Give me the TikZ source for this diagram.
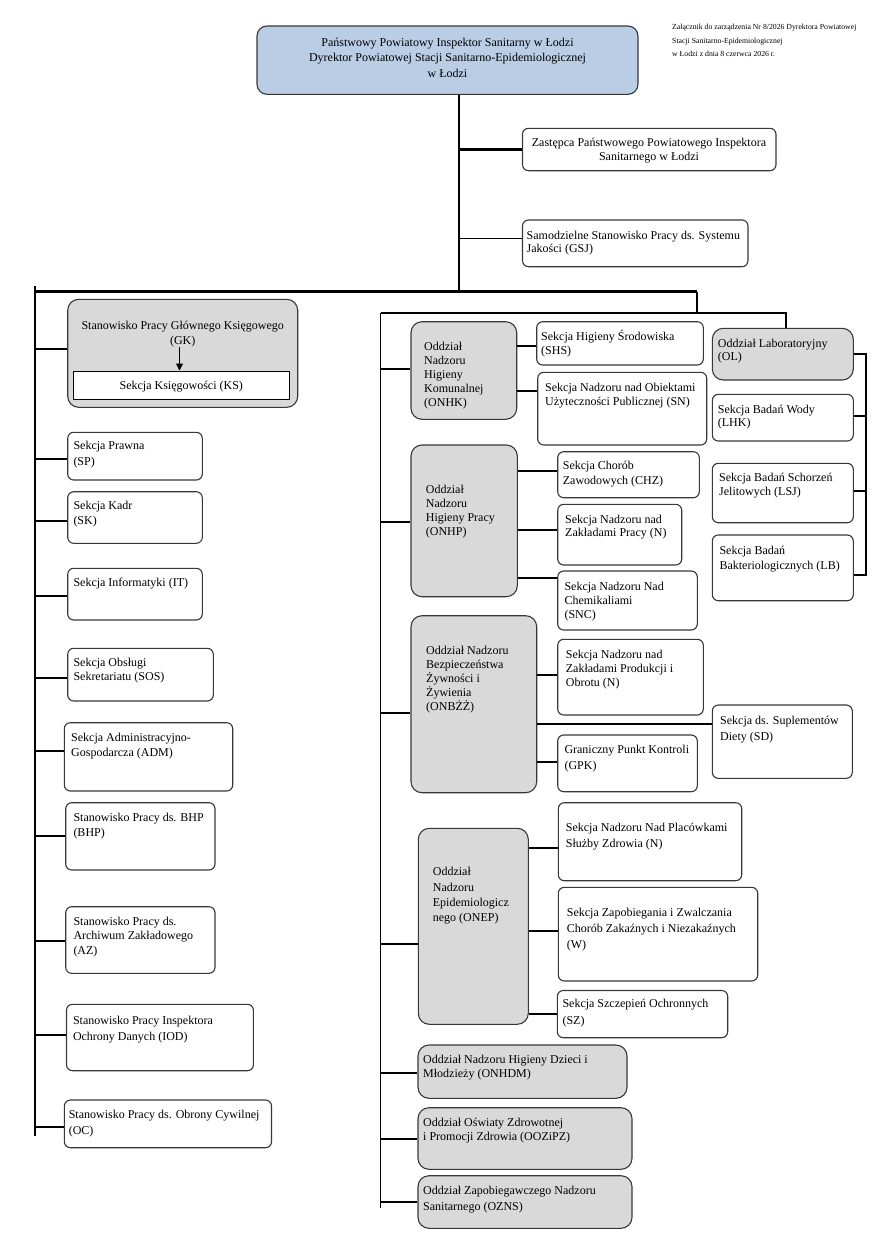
\documentclass[tikz,border=0pt]{standalone}
\usepackage{fontspec}
\setmainfont{Liberation Serif}
\usetikzlibrary{fit,arrows.meta}
\definecolor{bord}{HTML}{383838}
\definecolor{gfill}{HTML}{D9D9D9}
\definecolor{bfill}{HTML}{B9CDE5}
\newcommand\TL[2][14]{\parbox[t]{330pt}{\raggedright\baselineskip=#1pt\relax #2}}
\newcommand\TC[2][14]{\parbox[t]{400pt}{\centering\baselineskip=#1pt\relax #2}}
\newcommand\B[6]{\node[#1,fit={(#3,#4) (#5,#6)}] (#2) {};}
\newcommand\hc[3][0]{\coordinate (tmp) at ([yshift=#1pt]#3.west); \draw[conn] (#2 |- tmp) -- (tmp);}
\newcommand\hce[3][0]{\coordinate (tmp) at ([yshift=#1pt]#3.east); \draw[conn] (#2 |- tmp) -- (tmp);}
\begin{document}
\begin{tikzpicture}[x=1pt,y=-1pt,
 every node/.style={font=\fontsize{12}{14}\selectfont},
 box/.style={draw=bord,line width=1.1pt,rounded corners=6pt,fill=white,inner sep=0pt},
 gbox/.style={box,fill=gfill,rounded corners=11pt},
 hbox/.style={box,fill=bfill,rounded corners=10pt},
 sbox/.style={draw=black,line width=1pt,fill=white,inner sep=0pt},
 txt/.style={anchor=base west,inner sep=0pt},
 ctxt/.style={anchor=base,inner sep=0pt},
 conn/.style={line width=2pt},
 thinl/.style={line width=1.2pt}]
\path[use as bounding box,fill=white] (0,0) rectangle (882,1234);

% ---------- boxes ----------
\B{hbox}{hdr}{257}{26}{638}{94.3}
\B{box}{zast}{522.5}{128.3}{776}{170.7}
\B{box}{gsj}{522.5}{220}{748}{266.7}
\B{gbox}{gk}{67.7}{299.3}{297.7}{407.3}
\B{sbox}{ks}{73.3}{371}{289.3}{399.3}
\B{box}{sp}{67.7}{432.3}{202.3}{480}
\B{box}{sk}{67.7}{491.7}{202.3}{543.3}
\B{box}{it}{67.7}{568.3}{202.3}{620}
\B{box}{sos}{67.7}{648.3}{213.3}{701}
\B{box}{adm}{64.3}{722.7}{232.7}{791}
\B{box}{bhp}{65.7}{802.7}{215}{870}
\B{box}{az}{65.7}{906.7}{215}{973.3}
\B{box}{iod}{66.5}{1004.3}{253.4}{1070.7}
\B{box}{oc}{64.4}{1100}{271.5}{1147.7}
\B{gbox}{onhk}{411}{321.7}{516.7}{419.3}
\B{box}{shs}{536.7}{321.7}{703.3}{365}
\B{box}{sn}{537.7}{372.3}{706.7}{445}
\B{gbox}{ol}{712.3}{328.3}{853.3}{380}
\B{box}{lhk}{712.3}{394.3}{853.3}{441}
\B{box}{lsj}{712.3}{463.3}{853.3}{522.7}
\B{box}{lb}{712.3}{535}{853.3}{600.7}
\B{gbox}{onhp}{411}{445}{517.3}{596.7}
\B{box}{chz}{557.7}{451.7}{699.3}{497.7}
\B{box}{nza}{557.7}{504.3}{681.7}{565}
\B{box}{snc}{557.7}{571}{697.3}{630}
\B{gbox}{onbzz}{411}{615.7}{536.7}{792.7}
\B{box}{npr}{557.7}{639.3}{703.3}{715}
\B{box}{sd}{712.3}{705}{852.3}{778.3}
\B{box}{gpk}{557.7}{735}{697.3}{791.7}
\B{gbox}{onep}{418.3}{828.3}{528.3}{1024.3}
\B{box}{plac}{558.3}{802.7}{741.7}{880.7}
\B{box}{wz}{558.3}{887.3}{757.7}{981}
\B{box}{sz}{557.3}{990.5}{727.7}{1037.7}
\B{gbox}{onhdm}{418}{1045}{627}{1098.3}
\B{gbox}{oozipz}{418}{1107.7}{632}{1169.3}
\B{gbox}{ozns}{418}{1175.7}{632}{1228.3}

% ---------- texts ----------
\node[ctxt] at (447.5,46) {\TC[15.5]{Państwowy Powiatowy Inspektor Sanitarny w Łodzi\\Dyrektor Powiatowej Stacji Sanitarno-Epidemiologicznej\\w Łodzi}};
\node[txt,font=\fontsize{7.75}{9}\selectfont] at (672,29) {\TL[14]{Załącznik do zarządzenia Nr 8/2026 Dyrektora Powiatowej\\Stacji Sanitarno-Epidemiologicznej\\w Łodzi z dnia 8 czerwca 2026 r.}};
\node[ctxt] at (649,146.7) {\TC[14]{Zastępca Państwowego Powiatowego Inspektora\\Sanitarnego w Łodzi}};
\node[txt] at (526.5,239) {\TL[13.5]{Samodzielne Stanowisko Pracy ds. Systemu\\Jakości (GSJ)}};
\node[ctxt] at (182.7,329) {\TC[15]{Stanowisko Pracy Głównego Księgowego\\(GK)}};
\node[ctxt] at (181.3,389) {Sekcja Księgowości (KS)};
\node[txt] at (73.3,449.7) {\TL[16]{Sekcja Prawna\\(SP)}};
\node[txt] at (73.3,509.7) {\TL[14.3]{Sekcja Kadr\\(SK)}};
\node[txt] at (73.3,586.7) {Sekcja Informatyki (IT)};
\node[txt] at (73.3,666.7) {\TL[14]{Sekcja Obsługi\\Sekretariatu (SOS)}};
\node[txt] at (71,741.7) {\TL[14.3]{Sekcja Administracyjno-\\Gospodarcza (ADM)}};
\node[txt] at (73.3,821.7) {\TL[14.3]{Stanowisko Pracy ds. BHP\\(BHP)}};
\node[txt] at (73.3,925.7) {\TL[14.2]{Stanowisko Pracy ds.\\Archiwum Zakładowego\\(AZ)}};
\node[txt] at (72.8,1024) {\TL[16]{Stanowisko Pracy Inspektora\\Ochrony Danych (IOD)}};
\node[txt] at (68.6,1118) {\TL[16]{Stanowisko Pracy ds. Obrony Cywilnej\\(OC)}};
\node[txt] at (424,350.7) {\TL[14]{Oddział\\Nadzoru\\Higieny\\Komunalnej\\(ONHK)}};
\node[txt] at (541,340) {\TL[14]{Sekcja Higieny Środowiska\\(SHS)}};
\node[txt] at (545,391.7) {\TL[14]{Sekcja Nadzoru nad Obiektami\\Użyteczności Publicznej (SN)}};
\node[txt] at (717.7,347.3) {\TL[13.4]{Oddział Laboratoryjny\\(OL)}};
\node[txt] at (717.7,413) {\TL[13.7]{Sekcja Badań Wody\\(LHK)}};
\node[txt] at (719,481.7) {\TL[14]{Sekcja Badań Schorzeń\\Jelitowych (LSJ)}};
\node[txt] at (719.3,554) {\TL[15.7]{Sekcja Badań\\Bakteriologicznych (LB)}};
\node[txt] at (425.7,493) {\TL[14]{Oddział\\Nadzoru\\Higieny Pracy\\(ONHP)}};
\node[txt] at (562.7,469.7) {\TL[14.3]{Sekcja Chorób\\Zawodowych (CHZ)}};
\node[txt] at (565,523) {\TL[13.7]{Sekcja Nadzoru nad\\Zakładami Pracy (N)}};
\node[txt] at (564.3,590) {\TL[14]{Sekcja Nadzoru Nad\\Chemikaliami\\(SNC)}};
\node[txt] at (426,654) {\TL[14]{Oddział Nadzoru\\Bezpieczeństwa\\Żywności i\\Żywienia\\(ONBŻŻ)}};
\node[txt] at (565.7,658.3) {\TL[14.2]{Sekcja Nadzoru nad\\Zakładami Produkcji i\\Obrotu (N)}};
\node[txt] at (720,724) {\TL[16]{Sekcja ds. Suplementów\\Diety (SD)}};
\node[txt] at (564.3,753) {\TL[16]{Graniczny Punkt Kontroli\\(GPK)}};
\node[txt] at (432.7,875.7) {\TL[15.3]{Oddział\\Nadzoru\\Epidemiologicz\\nego (ONEP)}};
\node[txt] at (565.7,831.3) {\TL[16]{Sekcja Nadzoru Nad Placówkami\\Służby Zdrowia (N)}};
\node[txt] at (566.7,916.3) {\TL[16]{Sekcja Zapobiegania i Zwalczania\\Chorób Zakaźnych i Niezakaźnych\\(W)}};
\node[txt] at (562.3,1007.3) {\TL[16.7]{Sekcja Szczepień Ochronnych\\(SZ)}};
\node[txt] at (423,1063) {\TL[14.3]{Oddział Nadzoru Higieny Dzieci i\\Młodzieży (ONHDM)}};
\node[txt] at (423,1126.3) {\TL[13.7]{Oddział Oświaty Zdrowotnej\\i Promocji Zdrowia (OOZiPZ)}};
\node[txt] at (423,1194) {\TL[16.7]{Oddział Zapobiegawczego Nadzoru\\Sanitarnego (OZNS)}};

% ---------- trunks ----------
\coordinate (j0) at (459,291.7);
\coordinate (bL) at (35,291.7);
\coordinate (bR) at (697,291.7);
\coordinate (mTop) at (697,312.7);
\coordinate (mL) at (380.7,312.7);
\coordinate (olT) at (786,312.7);
\coordinate (lTop) at (35,286);
\coordinate (lBot) at (35,1136);
\coordinate (mBot) at (380.7,1208.3);
\coordinate (brk) at (865.7,353.3);

\draw[thinl] (hdr.south -| j0) -- (j0);
\draw[line width=2.5pt] (j0 |- zast.west) -- (zast.west);
\coordinate (g1) at ([yshift=5pt]gsj.west);
\draw[thinl] (j0 |- g1) -- (g1);
\draw[line width=2.5pt] (bL) -- (bR);
\draw[conn] (bR) -- (mTop);
\draw[conn] (mL) -- (olT) -- (olT |- ol.north);
\draw[line width=2.5pt] (lTop) -- (lBot);
\draw[line width=1.5pt] (mL) -- (mBot);

% ---------- left branches ----------
\hc[4.3]{lTop}{gk}
\hc[-3.2]{lTop}{sp}
\hc[-3.2]{lTop}{sk}
\hc[-1.9]{lTop}{it}
\hc[-3]{lTop}{sos}
\hc[6.1]{lTop}{adm}
\hc[0]{lTop}{bhp}
\hc[-1]{lTop}{az}
\hc[2.5]{lTop}{iod}
\hc[-3.5]{lTop}{oc}

% ---------- middle branches ----------
\hc[1.5]{mL}{onhk}
\hc[-0.8]{mL}{onhp}
\hc[-9.1]{mL}{onbzz}
\hc[-17.7]{mL}{onep}
\hc[-1.7]{mL}{onhdm}
\hc[-0.5]{mL}{oozipz}
\hc[0]{mL}{ozns}

\hc[-2.65]{onhk.east}{shs}
\hc[17.95]{onhk.east}{sn}
\hc[3.7]{onhp.east}{chz}
\hc[4.65]{onhp.east}{nza}
\hc[22.8]{onhp.east}{snc}
\hc[2.15]{onbzz.east}{npr}
\hc[17.65]{onbzz.east}{sd}
\hc[1]{onbzz.east}{gpk}
\hc[-6]{onep.east}{plac}
\hc[3.45]{onep.east}{wz}
\hc[0]{onep.east}{sz}

% ---------- laboratory bracket ----------
\coordinate (lbc) at ([yshift=-7.15pt]lb.east);
\draw[conn] (ol.east) -- (ol.east -| brk) -- (brk |- lbc) -- (lbc);
\hce[1.65]{brk}{lhk}
\hce[2]{brk}{lsj}

% ---------- GK -> KS arrow ----------
\coordinate (gka) at (179.5,347.3);
\draw[line width=1pt,-{Triangle[length=7pt,width=7pt]}] (gka) -- (gka |- ks.north);
\end{tikzpicture}
\end{document}
